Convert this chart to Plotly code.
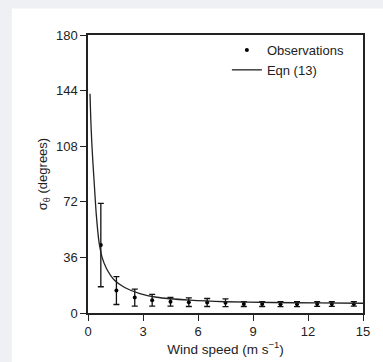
import plotly.graph_objects as go

# Observations
obs_x = [0.7, 1.55, 2.55, 3.5, 4.5, 5.5, 6.5, 7.5, 8.5, 9.5, 10.5, 11.4, 12.5, 13.3, 14.5]
obs_y = [44, 14.5, 10, 8.2, 7.3, 7.0, 6.8, 6.6, 5.8, 5.8, 5.7, 5.7, 5.8, 5.8, 5.9]
obs_err = [27, 9, 5.5, 3.8, 2.8, 2.8, 2.6, 2.5, 1.6, 1.6, 1.6, 1.6, 1.5, 1.5, 1.5]

# Eqn (13) curve
eqn_x = [0.11, 0.15, 0.2, 0.27, 0.33, 0.45, 0.6, 0.77, 1.0, 1.46, 2.0, 2.83, 3.74, 5.56, 7.5, 10, 12.5, 15]
eqn_y = [142, 126, 112, 97, 86, 64, 46, 36, 29, 21, 16.5, 12.5, 10.2, 8.3, 7.3, 6.8, 6.5, 6.3]

x_ticks = [0, 3, 6, 9, 12, 15]
y_ticks = [0, 36, 72, 108, 144, 180]

FONT = "Liberation Sans, Arial, sans-serif"

fig = go.Figure()
fig.add_trace(go.Scatter(
    x=obs_x, y=obs_y, mode="markers", name="Observations",
    marker=dict(color="black", size=4),
    error_y=dict(type="data", array=obs_err, visible=True, color="#111", thickness=1.3, width=3),
))
fig.add_trace(go.Scatter(
    x=eqn_x, y=eqn_y, mode="lines", name="Eqn (13)",
    line=dict(color="#222", width=1.3, shape="spline", smoothing=0.6),
))

axis_common = dict(
    showgrid=False, zeroline=False, showline=True, linecolor="#222", linewidth=1.5,
    mirror=True, ticks="outside", ticklen=6, tickwidth=1.2, tickcolor="#222",
    tickfont=dict(size=13, color="#222", family=FONT),
)

fig.update_layout(
    width=383, height=362,
    margin=dict(l=88, r=20, t=35, b=49),
    paper_bgcolor="#eef0f3", plot_bgcolor="white",
    font=dict(family=FONT, color="#222"),
    showlegend=True,
    legend=dict(x=0.505, y=1.0, xanchor="left", yanchor="top", bgcolor="rgba(0,0,0,0)",
                font=dict(size=13, color="#222", family=FONT), tracegroupgap=0,
                itemwidth=30),
    xaxis=dict(range=[0, 15], tickvals=x_ticks,
               title=dict(text="Wind speed (m s<sup>−1</sup>)", font=dict(size=13.5, color="#222"), standoff=0),
               **axis_common),
    yaxis=dict(range=[0, 180], tickvals=y_ticks,
               title=dict(text="σ<sub>θ</sub> (degrees)", font=dict(size=13, color="#222"), standoff=5),
               **axis_common),
    shapes=[dict(type="rect", xref="paper", yref="paper", x0=-0.277, x1=1.2, y0=-0.3, y1=1.095,
                 fillcolor="white", line=dict(width=0), layer="below")],
)

fig.write_html("out.html", config={"displayModeBar": False},
               post_script="document.body.style.margin='0';document.body.style.padding='0';")
